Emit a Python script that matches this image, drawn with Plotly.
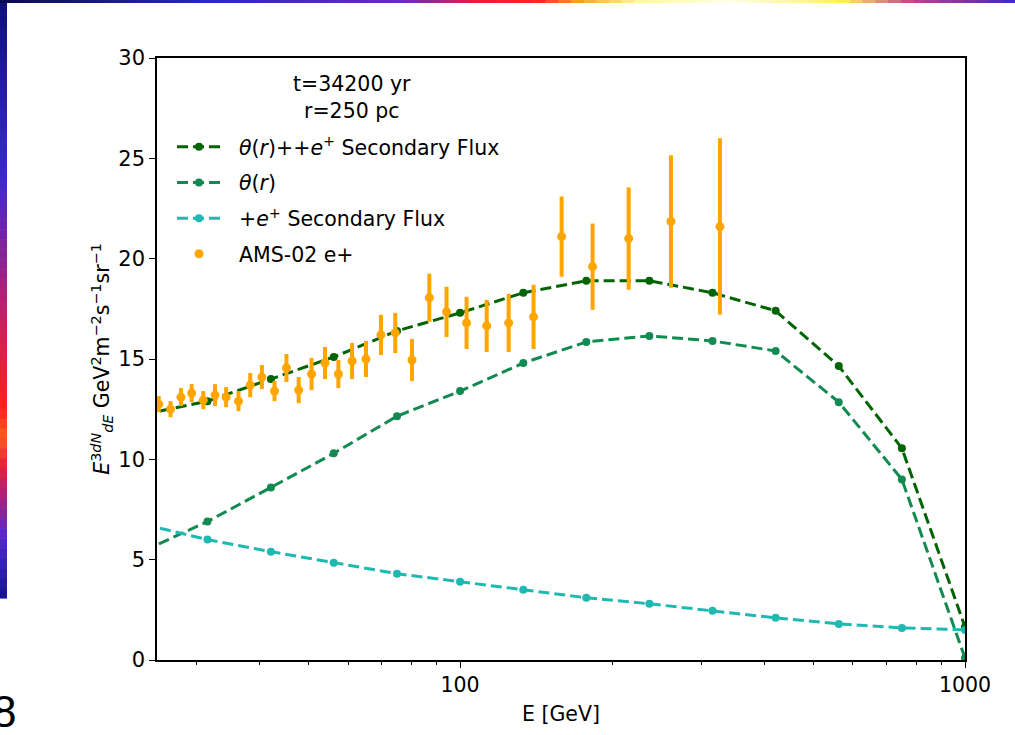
import plotly.graph_objects as go

# ---------------- data ----------------
model_E = [23.7, 31.6, 42.2, 56.2, 75.0, 100.0, 133.4, 177.8, 237.1, 316.2, 421.7, 562.3, 749.9, 1000.0]
total_flux = [12.25, 12.9, 14.0, 15.1, 16.4, 17.3, 18.3, 18.9, 18.9, 18.3, 17.4, 14.65, 10.55, 1.65]
theta_flux = [5.45, 6.9, 8.6, 10.3, 12.15, 13.4, 14.8, 15.85, 16.15, 15.9, 15.4, 12.85, 9.0, 0.1]
secondary_flux = [6.75, 6.0, 5.4, 4.85, 4.3, 3.9, 3.5, 3.1, 2.8, 2.45, 2.1, 1.8, 1.6, 1.5]

ams_E = [25.3, 26.7, 28.0, 29.4, 31.0, 32.7, 34.4, 36.4, 38.4, 40.5, 42.9, 45.3, 47.9, 50.8,
         54.0, 57.4, 61.1, 65.1, 69.7, 74.4, 80.3, 86.9, 94.0, 103.0, 112.9, 124.8, 139.8,
         158.9, 183.0, 215.7, 261.6, 327.1]
ams_flux = [12.75, 12.5, 13.1, 13.3, 12.95, 13.2, 13.1, 12.9, 13.7, 14.1, 13.4, 14.55, 13.45,
            14.25, 14.8, 14.25, 14.9, 15.0, 16.2, 16.3, 14.95, 18.05, 17.35, 16.8, 16.65, 16.8,
            17.1, 21.1, 19.6, 21.0, 21.85, 21.6]
ams_err = [0.4, 0.4, 0.45, 0.45, 0.45, 0.55, 0.5, 0.5, 0.6, 0.6, 0.5, 0.7, 0.65, 0.8, 0.8, 0.7,
           0.9, 0.9, 1.0, 1.0, 1.05, 1.2, 1.25, 1.3, 1.3, 1.45, 1.6, 2.0, 2.15, 2.55, 3.3, 4.4]

x_major = [100, 1000]
x_major_text = ["100", "1000"]
x_minor = [30, 40, 50, 60, 70, 80, 90, 200, 300, 400, 500, 600, 700, 800, 900]
y_ticks = [0, 5, 10, 15, 20, 25, 30]

FONT = "DejaVu Sans"
DASH = "11px,5px"
TXT = 20.5
PAD = "\u00a0\u00a0"

fig = go.Figure()

fig.add_trace(go.Scatter(
    x=model_E, y=total_flux, mode="lines+markers",
    name=PAD + "<i>θ</i>(<i>r</i>)++<i>e</i><sup>+</sup> Secondary Flux",
    line=dict(color="#006400", width=3, dash=DASH),
    marker=dict(color="#006400", size=8), legendgroup="a"))
fig.add_trace(go.Scatter(
    x=model_E, y=theta_flux, mode="lines+markers",
    name=PAD + "<i>θ</i>(<i>r</i>)",
    line=dict(color="#138a52", width=3, dash=DASH),
    marker=dict(color="#138a52", size=8), legendgroup="b"))
fig.add_trace(go.Scatter(
    x=model_E, y=secondary_flux, mode="lines+markers",
    name=PAD + "+<i>e</i><sup>+</sup> Secondary Flux",
    line=dict(color="#1eb9b0", width=3, dash=DASH),
    marker=dict(color="#1eb9b0", size=8), legendgroup="c"))
fig.add_trace(go.Scatter(
    x=ams_E, y=ams_flux, mode="markers", name=PAD + "AMS-02 e+",
    marker=dict(color="#FFA500", size=9),
    error_y=dict(type="data", array=ams_err, visible=True, color="#FFA500",
                 thickness=4, width=0),
    legendgroup="d"))

# ---------------- layout ----------------
L, R, T, B = 157, 965, 58, 660
W, H = 1015, 735


def px(x):
    return (x - L) / (R - L)


def py(y):
    return (B - y) / (B - T)


shapes = []


def lerp(c1, c2, t):
    return tuple(int(round(a + (b - a) * t)) for a, b in zip(c1, c2))


def gradient_rects(stops, n):
    out = []
    for i in range(n):
        t0 = i / n
        t1 = (i + 1) / n
        tm = (t0 + t1) / 2
        c = stops[-1][1]
        for j in range(len(stops) - 1):
            if stops[j][0] <= tm <= stops[j + 1][0]:
                tt = (tm - stops[j][0]) / (stops[j + 1][0] - stops[j][0])
                c = lerp(stops[j][1], stops[j + 1][1], tt)
                break
        out.append((t0, t1, "rgb(%d,%d,%d)" % c))
    return out


# left slide bar (decoration)
left_stops = [(0.0, (15, 15, 120)), (0.3, (60, 40, 210)), (0.55, (210, 30, 90)),
              (0.68, (255, 30, 30)), (0.73, (255, 90, 30)), (0.78, (235, 30, 60)),
              (0.9, (80, 40, 210)), (1.0, (20, 20, 140))]
for t0, t1, c in gradient_rects(left_stops, 60):
    y0 = t0 * 598
    y1 = t1 * 598 + 0.6
    shapes.append(dict(type="rect", xref="paper", yref="paper",
                       x0=px(0), x1=px(7), y0=py(y1), y1=py(y0),
                       fillcolor=c, line=dict(width=0), layer="below"))

# top slide bar (decoration)
top_stops = [(0.0, (10, 10, 80)), (0.2, (40, 40, 190)), (0.4, (110, 40, 200)),
             (0.47, (230, 30, 60)), (0.53, (250, 40, 30)), (0.57, (255, 160, 40)),
             (0.63, (255, 250, 150)), (0.72, (255, 255, 235)), (0.83, (255, 240, 90)),
             (0.9, (200, 60, 140)), (1.0, (60, 40, 200))]
for t0, t1, c in gradient_rects(top_stops, 80):
    shapes.append(dict(type="rect", xref="paper", yref="paper",
                       x0=px(t0 * W), x1=px(t1 * W + 0.8), y0=py(3), y1=py(0),
                       fillcolor=c, line=dict(width=0), layer="below"))

fig.update_layout(
    width=W, height=H,
    margin=dict(l=L, r=W - R, t=T, b=H - B, pad=0),
    paper_bgcolor="white", plot_bgcolor="white",
    font=dict(family=FONT, size=TXT, color="black"),
    showlegend=True,
    legend=dict(
        x=px(172), y=py(127), xanchor="left", yanchor="top",
        bgcolor="rgba(0,0,0,0)", borderwidth=0,
        font=dict(family=FONT, size=TXT, color="black"),
        traceorder="grouped", tracegroupgap=6, itemwidth=44),
    xaxis=dict(
        type="log", range=[1.3997, 3.0],
        tickmode="array", tickvals=x_major, ticktext=x_major_text,
        ticks="outside", ticklen=6, tickwidth=1.3, tickcolor="black",
        showline=True, linecolor="black", linewidth=1.5, mirror=True,
        showgrid=False, zeroline=False,
        tickfont=dict(family=FONT, size=TXT),
        minor=dict(tickvals=x_minor, ticks="outside", ticklen=3.5,
                   tickwidth=1, tickcolor="black", showgrid=False),
        title=dict(text="E [GeV]", font=dict(family=FONT, size=TXT), standoff=10)),
    yaxis=dict(
        range=[0, 30], tickmode="array", tickvals=y_ticks,
        ticks="outside", ticklen=6, tickwidth=1.3, tickcolor="black",
        showline=True, linecolor="black", linewidth=1.5, mirror=True,
        showgrid=False, zeroline=False,
        tickfont=dict(family=FONT, size=21),
        title=dict(text="<i>E</i><sup>3<i>dN</i></sup><sub><i>dE</i></sub> GeV<sup>2</sup>m<sup>−2</sup>s<sup>−1</sup>sr<sup>−1</sup>",
                   font=dict(family=FONT, size=TXT), standoff=3)),
    shapes=shapes,
    annotations=[
        dict(text="t=34200 yr<br>r=250 pc", xref="paper", yref="paper",
             x=px(352), y=py(97), xanchor="center", yanchor="middle",
             align="center", showarrow=False,
             font=dict(family=FONT, size=TXT, color="black")),
        dict(text="8", xref="paper", yref="paper", x=px(4), y=py(712),
             xanchor="center", yanchor="middle", showarrow=False,
             font=dict(family="Liberation Sans", size=44, color="black")),
    ],
)

fig.write_html("out.html", config={"displayModeBar": False},
               post_script="document.body.style.margin='0px';document.body.style.overflow='hidden';")
